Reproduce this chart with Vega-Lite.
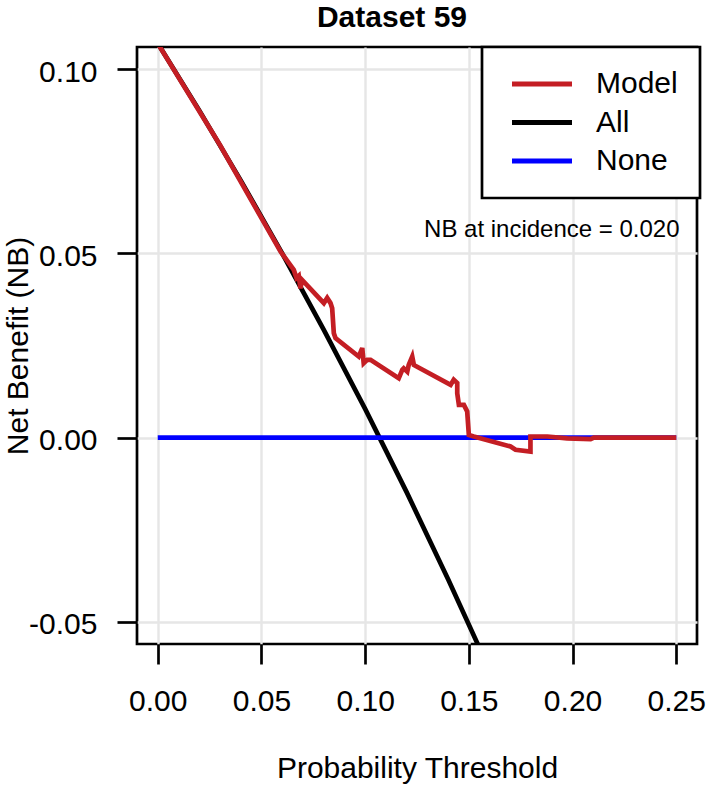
{
  "$schema": "https://vega.github.io/schema/vega-lite/v6.json",
  "width": 560,
  "height": 597,
  "autosize": {"type": "none"},
  "padding": {"left": 137, "top": 47, "right": 11, "bottom": 146},
  "background": "white",
  "title": {"text": "Dataset 59", "fontSize": 30, "fontWeight": "bold", "font": "Liberation Sans", "color": "black", "baseline": "alphabetic", "offset": 13, "dy": 24, "dx": -25, "anchor": "middle"},
  "config": {
    "view": {"stroke": "black", "strokeWidth": 2.7},
    "axis": {
      "domain": false,
      "tickColor": "black",
      "tickWidth": 2.7,
      "tickSize": 20,
      "labelFont": "Liberation Sans",
      "labelFontSize": 30,
      "labelColor": "black",
      "titleFont": "Liberation Sans",
      "titleFontSize": 30,
      "titleFontWeight": "normal",
      "titleColor": "black",
      "gridColor": "#E6E6E6",
      "gridWidth": 2.4
    },
    "legend": {
      "labelFont": "Liberation Sans",
      "labelFontSize": 30,
      "labelColor": "black"
    }
  },
  "data": {
    "values": [
      {"series": "All", "i": 0, "t": 0.0, "nb": 0.107},
      {"series": "All", "i": 1, "t": 0.02, "nb": 0.0888},
      {"series": "All", "i": 2, "t": 0.04, "nb": 0.0698},
      {"series": "All", "i": 3, "t": 0.06, "nb": 0.05},
      {"series": "All", "i": 4, "t": 0.08, "nb": 0.0293},
      {"series": "All", "i": 5, "t": 0.10, "nb": 0.0078},
      {"series": "All", "i": 6, "t": 0.12, "nb": -0.0148},
      {"series": "All", "i": 7, "t": 0.14, "nb": -0.0384},
      {"series": "All", "i": 8, "t": 0.16, "nb": -0.0631},
      {"series": "None", "i": 0, "t": 0.0, "nb": 0.0},
      {"series": "None", "i": 1, "t": 0.25, "nb": 0.0},
      {"series": "Model", "i": 0, "t": 0.0, "nb": 0.107},
      {"series": "Model", "i": 1, "t": 0.03, "nb": 0.0794},
      {"series": "Model", "i": 2, "t": 0.0592, "nb": 0.0505},
      {"series": "Model", "i": 3, "t": 0.0656, "nb": 0.0455},
      {"series": "Model", "i": 4, "t": 0.0669, "nb": 0.0433},
      {"series": "Model", "i": 5, "t": 0.068, "nb": 0.0439},
      {"series": "Model", "i": 6, "t": 0.0688, "nb": 0.0405},
      {"series": "Model", "i": 7, "t": 0.0696, "nb": 0.0428},
      {"series": "Model", "i": 8, "t": 0.0801, "nb": 0.0365},
      {"series": "Model", "i": 9, "t": 0.0817, "nb": 0.0379},
      {"series": "Model", "i": 10, "t": 0.0833, "nb": 0.0365},
      {"series": "Model", "i": 11, "t": 0.0841, "nb": 0.0351},
      {"series": "Model", "i": 12, "t": 0.0849, "nb": 0.0283},
      {"series": "Model", "i": 13, "t": 0.0857, "nb": 0.027},
      {"series": "Model", "i": 14, "t": 0.0969, "nb": 0.022},
      {"series": "Model", "i": 15, "t": 0.0986, "nb": 0.0243},
      {"series": "Model", "i": 16, "t": 0.0993, "nb": 0.0202},
      {"series": "Model", "i": 17, "t": 0.101, "nb": 0.0211},
      {"series": "Model", "i": 18, "t": 0.1026, "nb": 0.0211},
      {"series": "Model", "i": 19, "t": 0.1162, "nb": 0.0161},
      {"series": "Model", "i": 20, "t": 0.1179, "nb": 0.0184},
      {"series": "Model", "i": 21, "t": 0.1186, "nb": 0.0188},
      {"series": "Model", "i": 22, "t": 0.1203, "nb": 0.0179},
      {"series": "Model", "i": 23, "t": 0.121, "nb": 0.0197},
      {"series": "Model", "i": 24, "t": 0.1227, "nb": 0.022},
      {"series": "Model", "i": 25, "t": 0.1235, "nb": 0.0197},
      {"series": "Model", "i": 26, "t": 0.1412, "nb": 0.0143},
      {"series": "Model", "i": 27, "t": 0.1427, "nb": 0.0157},
      {"series": "Model", "i": 28, "t": 0.1444, "nb": 0.0148},
      {"series": "Model", "i": 29, "t": 0.1444, "nb": 0.012},
      {"series": "Model", "i": 30, "t": 0.1452, "nb": 0.0089},
      {"series": "Model", "i": 31, "t": 0.1476, "nb": 0.0089},
      {"series": "Model", "i": 32, "t": 0.1492, "nb": 0.0071},
      {"series": "Model", "i": 33, "t": 0.15, "nb": 0.0007},
      {"series": "Model", "i": 34, "t": 0.1524, "nb": 0.0003},
      {"series": "Model", "i": 35, "t": 0.1701, "nb": -0.0024},
      {"series": "Model", "i": 36, "t": 0.1725, "nb": -0.0033},
      {"series": "Model", "i": 37, "t": 0.1797, "nb": -0.0038},
      {"series": "Model", "i": 38, "t": 0.1797, "nb": 0.0003},
      {"series": "Model", "i": 39, "t": 0.1878, "nb": 0.0003},
      {"series": "Model", "i": 40, "t": 0.1974, "nb": -0.0002},
      {"series": "Model", "i": 41, "t": 0.2087, "nb": -0.0004},
      {"series": "Model", "i": 42, "t": 0.2103, "nb": 0.0},
      {"series": "Model", "i": 43, "t": 0.25, "nb": 0.0}
    ]
  },
  "encoding": {
    "x": {
      "field": "t", "type": "quantitative",
      "scale": {"domain": [-0.01, 0.26], "nice": false, "zero": false},
      "axis": {
        "values": [0, 0.05, 0.1, 0.15, 0.2, 0.25],
        "labelExpr": "format(datum.value, '.2f')",
        "labelPadding": 22,
        "title": "Probability Threshold",
        "titleX": 280, "titleY": 133, "titleBaseline": "alphabetic", "titleAlign": "center",
        "labelFlush": false
      }
    },
    "y": {
      "field": "nb", "type": "quantitative",
      "scale": {"domain": [-0.056, 0.106], "nice": false, "zero": false},
      "axis": {
        "values": [-0.05, 0, 0.05, 0.1],
        "labelExpr": "datum.value < 0 ? '-' + format(-datum.value, '.2f') : format(datum.value, '.2f')",
        "labelPadding": 20,
        "labelBaseline": "middle",
        "labelOffset": 3,
        "labelFlush": false,
        "title": "Net Benefit (NB)",
        "titleX": -110, "titleY": 298.5, "titleAngle": -90, "titleBaseline": "alphabetic", "titleAlign": "center"
      }
    },
    "color": {
      "field": "series", "type": "nominal",
      "scale": {"domain": ["Model", "All", "None"], "range": ["#C41E24", "#000000", "#0000FF"]},
      "legend": {
        "title": null,
        "orient": "none",
        "legendX": 345,
        "legendY": 0,
        "symbolType": "M-8,0H8",
        "symbolSize": 56.25,
        "symbolStrokeWidth": 5,
        "symbolOffset": 23,
        "labelOffset": 39,
        "rowPadding": 8.5,
        "padding": 22,
        "strokeColor": "black",
        "fillColor": "white",
        "labelLimit": 0,
        "encode": {"legend": {"update": {"strokeWidth": {"value": 2.7}}}}
      }
    },
    "order": {"field": "i", "type": "quantitative"}
  },
  "layer": [
    {"transform": [{"filter": "datum.series === 'All'"}], "mark": {"type": "line", "strokeWidth": 4.7, "clip": true}},
    {"transform": [{"filter": "datum.series === 'None'"}], "mark": {"type": "line", "strokeWidth": 4.7, "clip": true}},
    {"transform": [{"filter": "datum.series === 'Model'"}], "mark": {"type": "line", "strokeWidth": 4.7, "clip": true}},
    {
      "data": {"values": [{"t": 0.2516, "nb": 0.0544, "label": "NB at incidence = 0.020"}]},
      "mark": {"type": "text", "align": "right", "baseline": "alphabetic", "fontSize": 24, "font": "Liberation Sans", "color": "black"},
      "encoding": {
        "x": {"field": "t", "type": "quantitative"},
        "y": {"field": "nb", "type": "quantitative"},
        "text": {"field": "label"},
        "color": null,
        "order": null
      }
    }
  ]
}
